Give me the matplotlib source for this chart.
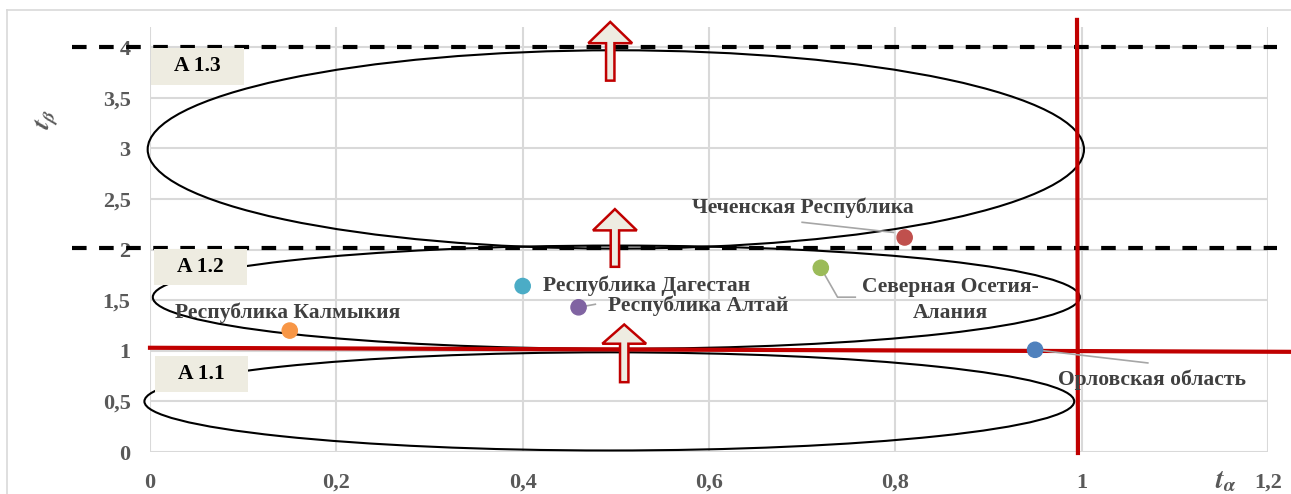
import matplotlib.pyplot as plt
from matplotlib.patches import Ellipse, Rectangle, Polygon
from matplotlib.lines import Line2D

plt.rcParams['font.family'] = ['Liberation Serif', 'DejaVu Serif']

# regions: t_alpha, t_beta
regions = ['Республика Калмыкия', 'Республика Дагестан', 'Республика Алтай',
           'Северная Осетия-\nАлания', 'Чеченская Республика', 'Орловская область']
t_alpha = [0.15, 0.40, 0.46, 0.72, 0.81, 0.95]
t_beta = [1.20, 1.64, 1.43, 1.82, 2.12, 1.01]
colors = ['#F79646', '#4BACC6', '#8064A2', '#9BBB59', '#C0504D', '#4F81BD']

# zones (centre x, centre y, width, height)
zone_names = ['A 1.1', 'A 1.2', 'A 1.3']
zone_cx = [0.493, 0.5005, 0.5]
zone_cy = [0.5, 1.53, 2.99]
zone_w = [0.998, 0.995, 1.005]
zone_h = [0.97, 1.02, 1.96]
thresholds = [2.02, 4.0]

xticks = [0, 0.2, 0.4, 0.6, 0.8, 1.0, 1.2]
xticklabels = ['0', '0,2', '0,4', '0,6', '0,8', '1', '1,2']
yticks = [0, 0.5, 1, 1.5, 2, 2.5, 3, 3.5, 4]
yticklabels = ['0', '0,5', '1', '1,5', '2', '2,5', '3', '3,5', '4']

fig = plt.figure(figsize=(12.91, 4.94), dpi=100)
ax = fig.add_axes([150 / 1291, 1 - 452 / 494, 1118 / 1291, 425 / 494])
ax.set_xlim(0, 1.2)
ax.set_ylim(0, 4.2)

grid = '#D9D9D9'
for x in xticks:
    ax.axvline(x, color=grid, lw=1.5, zorder=0)
for y in yticks:
    ax.axhline(y, color=grid, lw=1.5, zorder=0)
for s in ax.spines.values():
    s.set_visible(False)
ax.set_xticks(xticks)
ax.set_xticklabels(xticklabels)
ax.set_yticks(yticks)
ax.set_yticklabels(yticklabels)
ax.tick_params(length=0, labelsize=16, labelcolor='#595959')
ax.tick_params(axis='x', pad=15)
ax.tick_params(axis='y', pad=14)
for lab in ax.get_xticklabels() + ax.get_yticklabels():
    lab.set_fontweight('bold')

# outer border
fig.add_artist(Line2D([7 / 1291, 7 / 1291], [0, 1 - 10 / 494], color=grid, lw=1.2))
fig.add_artist(Line2D([7 / 1291, 1], [1 - 10 / 494, 1 - 10 / 494], color=grid, lw=1.2))

# ellipses
for cx, cy, w, h in zip(zone_cx, zone_cy, zone_w, zone_h):
    ax.add_patch(Ellipse((cx, cy), w, h, fill=False, ec='black', lw=1.5,
                         clip_on=False, zorder=3))

# dashed thresholds
for y in thresholds:
    ax.plot([-0.084, 1.21], [y, y], color='black', lw=3, ls=(0, (3.5, 3)),
            clip_on=False, zorder=4)

# red lines
ax.plot([0, 1.2246], [1.03, 0.99], color='#C00000', lw=3, clip_on=False, zorder=5)
ax.plot([0.995, 0.996], [4.27, -0.01], color='#C00000', lw=3, clip_on=False, zorder=5)

# arrows
def up_arrow(x, tip, base, bottom, hw=0.0235, sw=0.0045):
    pts = [(x, tip), (x - hw, base), (x - sw, base), (x - sw, bottom),
           (x + sw, bottom), (x + sw, base), (x + hw, base)]
    ax.add_patch(Polygon(pts, closed=True, fc='#EEECE1', ec='#C00000', lw=1.8,
                         clip_on=False, zorder=6))

up_arrow(0.494, 4.25, 4.04, 3.67)
up_arrow(0.499, 2.40, 2.19, 1.83)
up_arrow(0.509, 1.26, 1.07, 0.69)

# zone boxes
box_x = [0.005, 0.004, 0.001]
box_y = [0.593, 1.65, 3.63]
for name, bx, by in zip(zone_names, box_x, box_y):
    ax.add_patch(Rectangle((bx, by), 0.1, 0.36, fc='#EEECE1', ec='none',
                           clip_on=False, zorder=7))
    ax.text(bx + 0.05, by + 0.18, name, ha='center', va='center',
            fontsize=15.5, fontweight='bold', color='black', zorder=8)

# points
ax.scatter(t_alpha, t_beta, s=120, c=colors, zorder=9, clip_on=False)

lab_col = '#404040'
lead = '#A6A6A6'
kw = dict(fontsize=15.5, fontweight='bold', color=lab_col, zorder=10)
ax.text(0.148, 1.38, regions[0], ha='center', va='center', **kw)
ax.text(0.422, 1.64, regions[1], ha='left', va='center', **kw)
ax.plot([0.46, 0.478], [1.43, 1.46], color=lead, lw=1.2, zorder=8)
ax.text(0.492, 1.45, regions[2], ha='left', va='center', **kw)
ax.plot([0.72, 0.738, 0.757], [1.82, 1.53, 1.53], color=lead, lw=1.2, zorder=8)
ax.text(0.859, 1.505, regions[3], ha='center', va='center', linespacing=1.38, **kw)
ax.plot([0.70, 0.798], [2.27, 2.17], color=lead, lw=1.2, zorder=8)
ax.text(0.701, 2.41, regions[4], ha='center', va='center', **kw)
ax.plot([0.95, 1.071], [1.01, 0.88], color=lead, lw=1.2, zorder=8)
ax.text(1.076, 0.71, regions[5], ha='center', va='center', **kw)

# axis titles
fig.text(48 / 1291, 1 - 120 / 494, r'$\boldsymbol{t}_{\boldsymbol{\beta}}$',
         fontsize=19, color='#595959', rotation=75, ha='center', va='center',
         math_fontfamily='stix')
fig.text(1226 / 1291, 1 - 482 / 494, r'$\boldsymbol{t}_{\boldsymbol{\alpha}}$',
         fontsize=20, color='#595959', ha='center', va='center',
         math_fontfamily='stix')

fig.savefig('out.png', dpi=100)
